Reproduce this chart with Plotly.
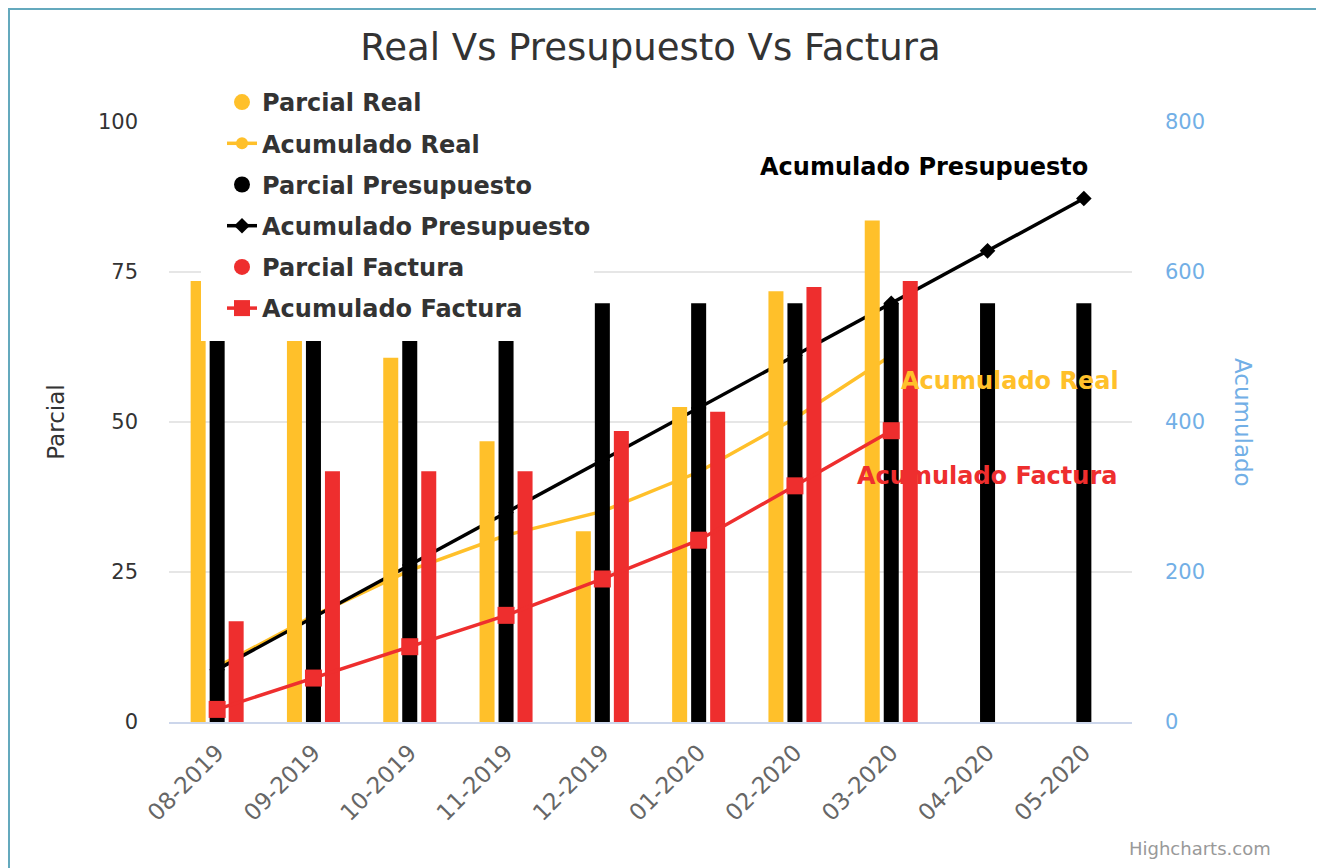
import plotly.graph_objects as go

# ---------------- data ----------------
categories = ["08-2019", "09-2019", "10-2019", "11-2019", "12-2019",
              "01-2020", "02-2020", "03-2020", "04-2020", "05-2020"]

parcial_real = [73.5, 68.0, 60.7, 46.8, 31.8, 52.5, 71.8, 83.6, None, None]
parcial_presupuesto = [69.8, 69.8, 69.8, 69.8, 69.8, 69.8, 69.8, 69.8, 69.8, 69.8]
parcial_factura = [16.8, 41.8, 41.8, 41.8, 48.5, 51.7, 72.5, 73.5, None, None]

acumulado_real = [73.5, 141.5, 202.2, 249.0, 280.8, 333.3, 405.1, 488.7]
acumulado_presupuesto = [69.8, 139.6, 209.4, 279.2, 349.0, 418.8, 488.6, 558.4, 628.2, 698.0]
acumulado_factura = [16.8, 58.6, 100.4, 142.2, 190.7, 242.4, 314.9, 388.4]

parcial_ticks = [0, 25, 50, 75, 100]
acumulado_ticks = [0, 200, 400, 600, 800]

# ---------------- style ----------------
YELLOW = "#FFC02A"
BLACK = "#000000"
RED = "#EE2E2E"
BLUE = "#72afe6"
FONT = "DejaVu Sans"

OFF = 8  # page body margin
W, H = 1324 - OFF, 868 - OFF
# plot area in page pixels
L, R, T, B = 169, 1132, 122, 722


def px_x(p):
    return (p - L) / (R - L)


def px_y(p):
    return (B - p) / (B - T)


fig = go.Figure()

# legend-only circle entries for the bar series + the line series (grouped order)
fig.add_trace(go.Scatter(x=[None], y=[None], mode="markers", name="Parcial Real",
                         legendgroup="g1", marker=dict(color=YELLOW, size=16, symbol="circle"),
                         yaxis="y"))
fig.add_trace(go.Scatter(x=categories[:len(acumulado_real)], y=acumulado_real,
                         mode="lines+markers", name="Acumulado Real", legendgroup="g2",
                         line=dict(color=YELLOW, width=3.5),
                         marker=dict(color=YELLOW, size=12, symbol="circle"), yaxis="y"))
fig.add_trace(go.Scatter(x=[None], y=[None], mode="markers", name="Parcial Presupuesto",
                         legendgroup="g3", marker=dict(color=BLACK, size=16, symbol="circle"),
                         yaxis="y"))
fig.add_trace(go.Scatter(x=categories, y=acumulado_presupuesto,
                         mode="lines+markers", name="Acumulado Presupuesto", legendgroup="g4",
                         line=dict(color=BLACK, width=3.5),
                         marker=dict(color=BLACK, size=12, symbol="diamond"), yaxis="y"))
fig.add_trace(go.Scatter(x=[None], y=[None], mode="markers", name="Parcial Factura",
                         legendgroup="g5", marker=dict(color=RED, size=16, symbol="circle"),
                         yaxis="y"))
fig.add_trace(go.Scatter(x=categories[:len(acumulado_factura)], y=acumulado_factura,
                         mode="lines+markers", name="Acumulado Factura", legendgroup="g6",
                         line=dict(color=RED, width=3.5),
                         marker=dict(color=RED, size=17, symbol="square"), yaxis="y3"))

# bars (left axis, drawn above the yellow/black lines)
fig.add_trace(go.Bar(x=categories, y=parcial_real, name="Parcial Real", legendgroup="g1",
                     showlegend=False, marker=dict(color=YELLOW, line=dict(width=0)), yaxis="y2"))
fig.add_trace(go.Bar(x=categories, y=parcial_presupuesto, name="Parcial Presupuesto",
                     legendgroup="g3", showlegend=False,
                     marker=dict(color=BLACK, line=dict(width=0)), yaxis="y2"))
fig.add_trace(go.Bar(x=categories, y=parcial_factura, name="Parcial Factura", legendgroup="g5",
                     showlegend=False, marker=dict(color=RED, line=dict(width=0)), yaxis="y2"))

fig.update_layout(
    width=W, height=H,
    margin=dict(l=L - OFF, r=(1324 - R), t=T - OFF, b=(868 - B), pad=0),
    paper_bgcolor="white", plot_bgcolor="white",
    font=dict(family=FONT, color="#333333"),
    barmode="group", bargap=0.408, bargroupgap=0.21,
    title=dict(text="Real Vs Presupuesto Vs Factura", x=0.5, xref="paper", xanchor="center",
               y=1 - (47 - OFF) / H, yanchor="middle",
               font=dict(family=FONT, size=37, color="#333333")),
    showlegend=True,
    legend=dict(x=px_x(222), y=px_y(80), xanchor="left", yanchor="top",
                bgcolor="rgba(255,255,255,0)", borderwidth=0, traceorder="grouped",
                tracegroupgap=7, itemsizing="trace",
                font=dict(family=FONT, size=24, color="#333333", weight="bold")),
    xaxis=dict(type="category", categoryorder="array", categoryarray=categories,
               range=[-0.5, len(categories) - 0.5],
               showgrid=False, showline=True, linecolor="#ccd6eb", linewidth=2,
               ticks="", tickangle=-45, ticklabelstandoff=6,
               tickfont=dict(family=FONT, size=23, color="#666666"), zeroline=False),
    yaxis=dict(range=[0, 800], tickvals=acumulado_ticks, side="right",
               showgrid=True, gridcolor="#e6e6e6", gridwidth=2, zeroline=False,
               ticks="", ticklabelstandoff=32,
               tickfont=dict(family=FONT, size=21, color=BLUE)),
    yaxis2=dict(range=[0, 100], tickvals=parcial_ticks, overlaying="y", side="left",
                showgrid=False, zeroline=False, ticks="", ticklabelstandoff=30,
                tickfont=dict(family=FONT, size=21, color="#333333"),
                title=dict(text="Parcial", standoff=26,
                           font=dict(family=FONT, size=23, color="#333333"))),
    yaxis3=dict(range=[0, 800], overlaying="y", side="right", visible=False,
                showgrid=False, zeroline=False),
)

annotations = [
    dict(text="Acumulado", x=px_x(1243), y=px_y(422), xref="paper", yref="paper",
         textangle=90, showarrow=False, xanchor="center", yanchor="middle",
         font=dict(family=FONT, size=23, color=BLUE)),
    dict(text="<b>Acumulado Presupuesto</b>", x=px_x(924), y=px_y(167), xref="paper",
         yref="paper", showarrow=False, xanchor="center", yanchor="middle",
         font=dict(family=FONT, size=24, color=BLACK)),
    dict(text="<b>Acumulado Real</b>", x=px_x(899), y=px_y(381), xref="paper", yref="paper",
         showarrow=False, xanchor="left", yanchor="middle",
         font=dict(family=FONT, size=24, color=YELLOW)),
    dict(text="<b>Acumulado Factura</b>", x=px_x(855), y=px_y(476), xref="paper",
         yref="paper", showarrow=False, xanchor="left", yanchor="middle",
         font=dict(family=FONT, size=24, color=RED)),
    dict(text="Highcharts.com", x=px_x(1273), y=px_y(848), xref="paper", yref="paper",
         showarrow=False, xanchor="right", yanchor="middle",
         font=dict(family=FONT, size=18, color="#999999")),
]
fig.update_layout(annotations=annotations)

frame_color = "#64a9bd"
fig.update_layout(shapes=[
    # legend background panel (covers the plot like the original legend box)
    dict(type="rect", xref="paper", yref="paper", x0=px_x(201), x1=px_x(594),
         y0=px_y(341), y1=px_y(84), fillcolor="white", line=dict(width=0), layer="above"),
    dict(type="line", xref="paper", yref="paper", x0=px_x(8), x1=px_x(1330),
         y0=px_y(9), y1=px_y(9), line=dict(color=frame_color, width=2)),
    dict(type="line", xref="paper", yref="paper", x0=px_x(9), x1=px_x(9),
         y0=px_y(8), y1=px_y(875), line=dict(color=frame_color, width=2)),
])

fig.write_html("out.html")
